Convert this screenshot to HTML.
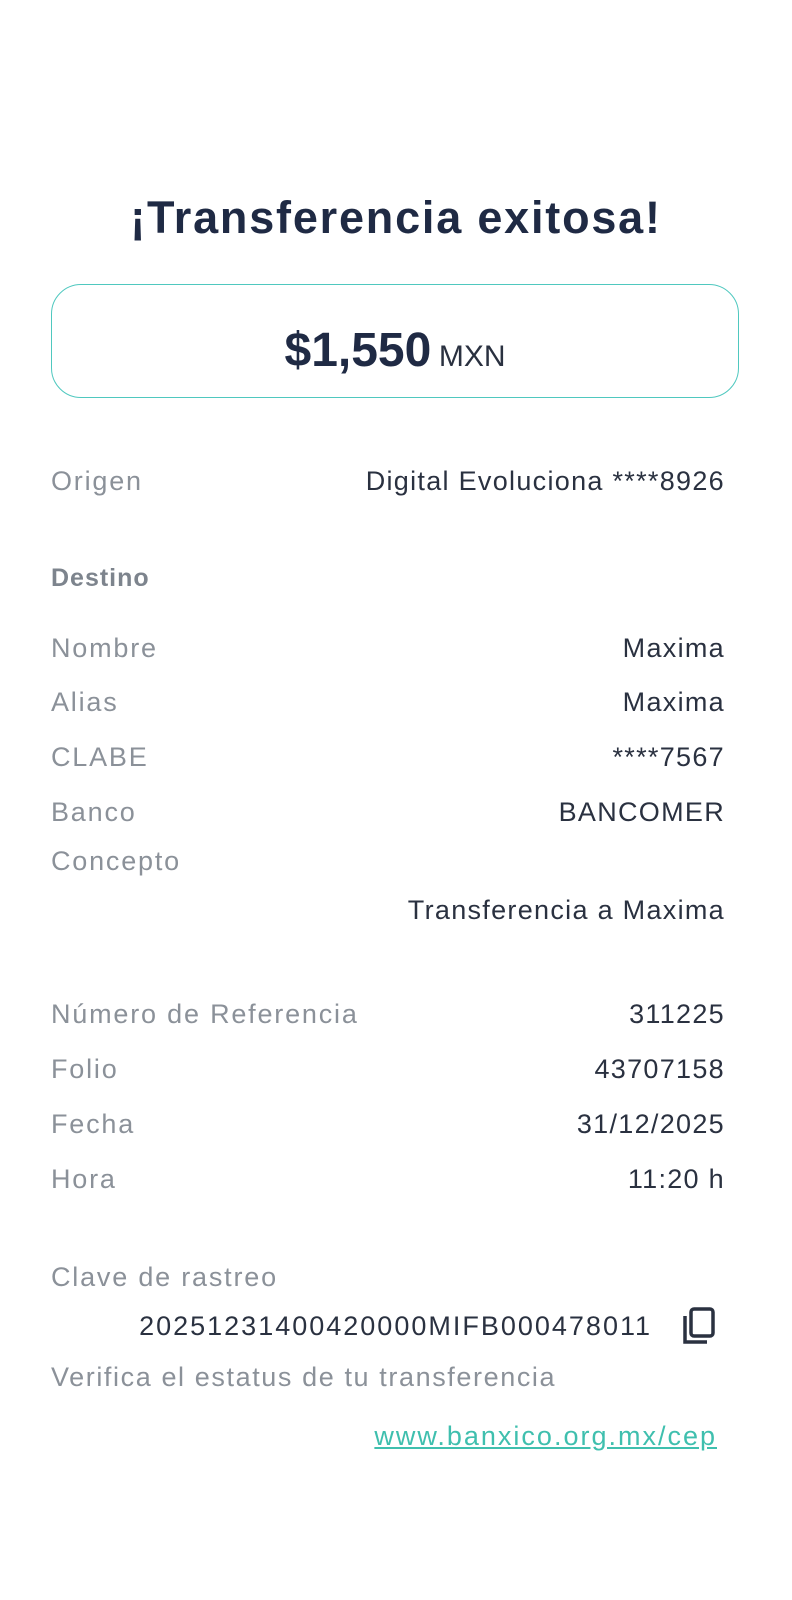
<!DOCTYPE html>
<html><head><meta charset="utf-8"><style>
body{margin:0;width:792px;height:1600px;background:#fff;position:relative;font-family:"Liberation Sans",sans-serif;overflow:hidden}
.t{position:absolute;line-height:40px;height:40px;white-space:nowrap;font-size:27px}
.l{left:51px;color:#8b9199;letter-spacing:1.8px}
.r{right:67px;color:#2a3140;text-align:right;letter-spacing:1.3px}
</style></head><body>
<div class="t" style="left:0;width:792px;text-align:center;top:193px;height:50px;line-height:50px;font-size:45px;font-weight:bold;color:#1f2a44;letter-spacing:1.8px">¡Transferencia exitosa!</div>
<div style="position:absolute;left:51px;top:284px;width:686px;height:112px;border:1.5px solid #4fc8bf;border-radius:30px"></div>
<div class="t" style="left:51px;width:688px;text-align:center;top:326px;height:50px;line-height:50px;color:#1f2a44"><span style="font-size:48px;font-weight:bold">$1,550</span> <span style="font-size:30px;color:#2a3140">MXN</span></div>
<div class="t l" style="top:461px">Origen</div><div class="t r" style="top:461px">Digital Evoluciona ****8926</div>
<div class="t l" style="top:558px;font-weight:bold;font-size:25px;color:#7d848d;letter-spacing:1px">Destino</div>
<div class="t l" style="top:628px">Nombre</div><div class="t r" style="top:628px">Maxima</div>
<div class="t l" style="top:682px">Alias</div><div class="t r" style="top:682px">Maxima</div>
<div class="t l" style="top:737px">CLABE</div><div class="t r" style="top:737px">****7567</div>
<div class="t l" style="top:792px">Banco</div><div class="t r" style="top:792px">BANCOMER</div>
<div class="t l" style="top:841px">Concepto</div>
<div class="t r" style="top:890px">Transferencia a Maxima</div>
<div class="t l" style="top:994px">Número de Referencia</div><div class="t r" style="top:994px">311225</div>
<div class="t l" style="top:1049px">Folio</div><div class="t r" style="top:1049px">43707158</div>
<div class="t l" style="top:1104px">Fecha</div><div class="t r" style="top:1104px">31/12/2025</div>
<div class="t l" style="top:1159px">Hora</div><div class="t r" style="top:1159px">11:20 h</div>
<div class="t l" style="top:1257px">Clave de rastreo</div>
<div class="t" style="top:1306px;left:120px;width:532px;color:#2a3140;text-align:right;letter-spacing:2px">20251231400420000MIFB000478011</div>
<svg style="position:absolute;left:681px;top:1306px" width="36" height="40" viewBox="0 0 36 40"><path d="M4 10 V36 H26" fill="none" stroke="#2a3140" stroke-width="3.5"/><rect x="10" y="3" width="22" height="27" rx="3" fill="none" stroke="#2a3140" stroke-width="3.5"/></svg>
<div class="t l" style="top:1357px;letter-spacing:1.6px">Verifica el estatus de tu transferencia</div>
<div class="t" style="top:1416px;right:75px;color:#3fbfae;text-decoration:underline;letter-spacing:2px">www.banxico.org.mx/cep</div>
</body></html>
